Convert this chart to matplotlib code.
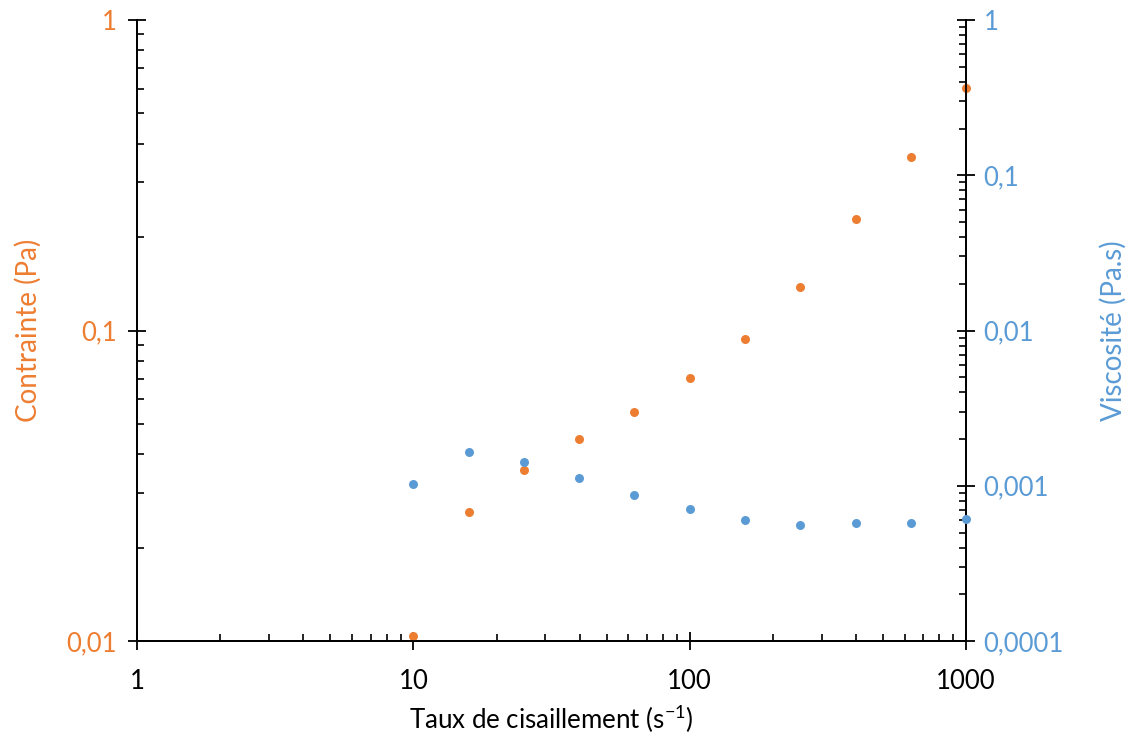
import matplotlib
matplotlib.use("Agg")
import matplotlib.pyplot as plt
from matplotlib.ticker import FixedLocator, LogLocator, NullFormatter, FuncFormatter

plt.rcParams['font.family'] = ['Lato', 'DejaVu Sans']
plt.rcParams['mathtext.fontset'] = 'custom'
plt.rcParams['mathtext.rm'] = 'Lato'
plt.rcParams['mathtext.default'] = 'regular'

ORANGE = '#ED7D31'
BLUE = '#5B9BD5'

# shear rate (s-1)
shear_rate = [10, 15.85, 25.12, 39.81, 63.1, 100, 158.5, 251.2, 398.1, 631, 1000]
# stress (Pa)
stress = [0.0104, 0.026, 0.0356, 0.0448, 0.0547, 0.0703, 0.0939, 0.138, 0.229, 0.362, 0.604]
# viscosity (Pa.s)
viscosity = [0.00103, 0.00165, 0.00142, 0.00112, 0.00087, 0.000708, 0.000601,
             0.000558, 0.000575, 0.000575, 0.00061]

x_ticks = [1, 10, 100, 1000]
left_ticks = [0.01, 0.1, 1]
right_ticks = [0.0001, 0.001, 0.01, 0.1, 1]


def fr_fmt(v, pos):
    s = ('%g' % v) if v >= 1e-3 else ('%.4f' % v)
    return s.replace('.', ',')


fig = plt.figure(figsize=(11.36, 7.38), dpi=100)
ax = fig.add_axes([0.1206, 0.1314, 0.7298, 0.8415])
ax2 = ax.twinx()

ax.scatter(shear_rate, stress, s=42, color=ORANGE, zorder=3, clip_on=False, linewidths=0)
ax2.scatter(shear_rate, viscosity, s=42, color=BLUE, zorder=3, clip_on=False, linewidths=0)

ax.set_xscale('log')
ax.set_yscale('log')
ax2.set_yscale('log')
ax.set_xlim(1, 1000)
ax.set_ylim(0.01, 1)
ax2.set_ylim(0.0001, 1)

ax.xaxis.set_major_locator(FixedLocator(x_ticks))
ax.xaxis.set_major_formatter(FuncFormatter(lambda v, p: '%d' % v))
ax.yaxis.set_major_locator(FixedLocator(left_ticks))
ax.yaxis.set_major_formatter(FuncFormatter(fr_fmt))
ax2.yaxis.set_major_locator(FixedLocator(right_ticks))
ax2.yaxis.set_major_formatter(FuncFormatter(fr_fmt))
for a in (ax.xaxis, ax.yaxis, ax2.yaxis):
    a.set_minor_locator(LogLocator(base=10, subs=range(2, 10)))
    a.set_minor_formatter(NullFormatter())

for a in (ax, ax2):
    a.spines['top'].set_visible(False)
    for sp in a.spines.values():
        sp.set_linewidth(1.3)
        sp.set_color('black')

ax.tick_params(axis='x', which='major', direction='inout', length=13, width=1.3,
               labelsize=18.5, colors='black', pad=14)
ax.tick_params(axis='x', which='minor', direction='in', length=5, width=1.2)
ax.tick_params(axis='y', which='major', direction='inout', length=13, width=1.3,
               labelsize=18.5, labelcolor=ORANGE, pad=8)
ax.tick_params(axis='y', which='minor', direction='in', length=5, width=1.2)
ax2.tick_params(axis='y', which='major', direction='inout', length=13, width=1.3,
                labelsize=18.5, labelcolor=BLUE, pad=6)
ax2.tick_params(axis='y', which='minor', direction='in', length=5, width=1.2)

ax.set_xlabel('Taux de cisaillement (s$^{-1}$)', fontsize=18.6, labelpad=6)
ax.set_ylabel('Contrainte (Pa)', fontsize=20, color=ORANGE, labelpad=18)
ax2.set_ylabel('Viscosité (Pa.s)', fontsize=20, color=BLUE, labelpad=26)

fig.savefig('out.png', dpi=100)
